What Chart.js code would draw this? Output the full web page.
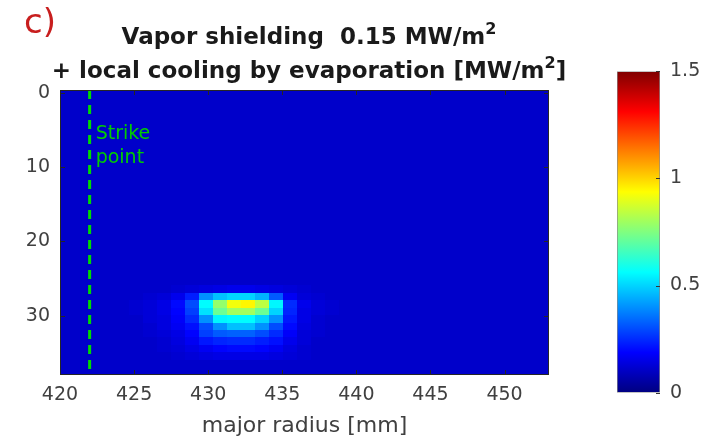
<!DOCTYPE html>
<html>
<head>
<meta charset="utf-8">
<script src="https://cdn.jsdelivr.net/npm/chart.js@4.4.0/dist/chart.umd.min.js"></script>
<style>
  html, body { margin: 0; padding: 0; background: #fff; }
  #wrap { position: relative; width: 706px; height: 443px; }
  #mainChart { position: absolute; left: 0; top: 0; }
  #barChart { position: absolute; left: 600px; top: 50px; }
</style>
</head>
<body>
<div id="wrap">
  <canvas id="mainChart" width="706" height="443"></canvas>
  <canvas id="barChart" width="106" height="364"></canvas>
</div>
<script>
/* --------- データ --------- */
// 横軸（major radius [mm]）の範囲とセル数
const xMin = 420;
const xMax = 453;
const nCols = 35;

// 縦軸の範囲（上が 0）、行 i は [i, i+1]
const yMin = -0.4;
const yMax = 38;
const nRows = 38;

// 背景の熱流束 [MW/m2]
const background = 0.11;

// 局所冷却のホットスポット（列 5〜20、行 26〜35）
const blobFirstCol = 5;
const blobFirstRow = 26;
const blobRows = [
  [0.11, 0.11, 0.11, 0.12, 0.13, 0.14, 0.15, 0.16, 0.16, 0.15, 0.14, 0.13, 0.12, 0.11, 0.11, 0.11],
  [0.11, 0.12, 0.13, 0.16, 0.23, 0.40, 0.47, 0.50, 0.50, 0.45, 0.32, 0.17, 0.13, 0.12, 0.11, 0.11],
  [0.12, 0.13, 0.15, 0.20, 0.30, 0.56, 0.78, 0.92, 0.95, 0.84, 0.55, 0.25, 0.16, 0.13, 0.12, 0.11],
  [0.12, 0.13, 0.15, 0.19, 0.28, 0.52, 0.72, 0.80, 0.80, 0.72, 0.50, 0.24, 0.15, 0.13, 0.12, 0.11],
  [0.11, 0.13, 0.14, 0.18, 0.25, 0.40, 0.55, 0.56, 0.56, 0.50, 0.40, 0.22, 0.15, 0.12, 0.11, 0.11],
  [0.11, 0.12, 0.14, 0.17, 0.21, 0.30, 0.40, 0.47, 0.47, 0.40, 0.30, 0.20, 0.14, 0.12, 0.11, 0.11],
  [0.11, 0.12, 0.13, 0.15, 0.19, 0.28, 0.32, 0.33, 0.33, 0.30, 0.25, 0.18, 0.13, 0.12, 0.11, 0.11],
  [0.11, 0.11, 0.12, 0.14, 0.17, 0.22, 0.24, 0.25, 0.25, 0.23, 0.21, 0.16, 0.13, 0.11, 0.11, 0.11],
  [0.11, 0.11, 0.12, 0.13, 0.15, 0.17, 0.19, 0.20, 0.20, 0.19, 0.17, 0.14, 0.12, 0.11, 0.11, 0.11],
  [0.11, 0.11, 0.11, 0.12, 0.13, 0.14, 0.15, 0.15, 0.15, 0.15, 0.14, 0.13, 0.12, 0.11, 0.11, 0.11],
];

// 目盛り
const xTicks = [420, 425, 430, 435, 440, 445, 450];
const yTicks = [0, 10, 20, 30];
const cbTicks = [0, 0.5, 1, 1.5];
const cbMax = 1.5;

// ストライクポイント
const strikeX = 422;

const FONT = "'DejaVu Sans', sans-serif";

/* --------- ヘルパー --------- */
function clamp01(v) {
  return Math.min(1, Math.max(0, v));
}

// MATLAB の jet カラーマップ
function jet(t) {
  t = clamp01(t);
  const r = clamp01(Math.min(4 * t - 1.5, -4 * t + 4.5));
  const g = clamp01(Math.min(4 * t - 0.5, -4 * t + 3.5));
  const b = clamp01(Math.min(4 * t + 0.5, -4 * t + 2.5));
  return `rgb(${Math.round(r * 255)},${Math.round(g * 255)},${Math.round(b * 255)})`;
}

function cellValue(row, col) {
  const r = row - blobFirstRow;
  const c = col - blobFirstCol;
  if (r >= 0 && r < blobRows.length && c >= 0 && c < blobRows[r].length) return blobRows[r][c];
  return background;
}

function fixedTicks(list) {
  return (scale) => {
    scale.ticks = list.map((v) => ({ value: v }));
  };
}

// 上付き文字を含むテキストを中央揃えで描く
function drawRich(ctx, parts, cx, baseline, size) {
  const widths = parts.map((p) => {
    ctx.font = `bold ${p.sup ? Math.round(size * 0.68) : size}px ${FONT}`;
    return ctx.measureText(p.t).width;
  });
  let x = cx - widths.reduce((a, b) => a + b, 0) / 2;
  parts.forEach((p, i) => {
    ctx.font = `bold ${p.sup ? Math.round(size * 0.68) : size}px ${FONT}`;
    ctx.fillText(p.t, x, p.sup ? baseline - size * 0.45 : baseline);
    x += widths[i];
  });
}

/* --------- ヒートマップ描画プラグイン --------- */
const heatmapPlugin = {
  id: "heatmap",
  beforeDatasetsDraw(chart) {
    const { ctx, chartArea: a, scales } = chart;
    const dx = (xMax - xMin) / nCols;
    ctx.save();
    ctx.beginPath();
    ctx.rect(a.left, a.top, a.width, a.height);
    ctx.clip();
    ctx.fillStyle = jet(background / cbMax);
    ctx.fillRect(a.left, a.top, a.width, a.height);
    for (let r = 0; r < nRows; r++) {
      for (let c = 0; c < nCols; c++) {
        const x0 = Math.floor(scales.x.getPixelForValue(xMin + c * dx));
        const x1 = Math.ceil(scales.x.getPixelForValue(xMin + (c + 1) * dx));
        const y0 = Math.floor(scales.y.getPixelForValue(r));
        const y1 = Math.ceil(scales.y.getPixelForValue(r + 1));
        ctx.fillStyle = jet(cellValue(r, c) / cbMax);
        ctx.fillRect(x0, y0, x1 - x0, y1 - y0);
      }
    }
    ctx.restore();
  },
  afterDraw(chart) {
    const { ctx, chartArea: a, scales } = chart;
    ctx.save();
    // 枠と内向きの目盛り
    ctx.strokeStyle = "#262626";
    ctx.lineWidth = 1;
    ctx.strokeRect(a.left + 0.5, a.top + 0.5, a.width - 1, a.height - 1);
    ctx.beginPath();
    xTicks.forEach((v) => {
      const px = Math.round(scales.x.getPixelForValue(v)) + 0.5;
      ctx.moveTo(px, a.bottom);
      ctx.lineTo(px, a.bottom - 5);
      ctx.moveTo(px, a.top);
      ctx.lineTo(px, a.top + 5);
    });
    yTicks.forEach((v) => {
      const py = Math.round(scales.y.getPixelForValue(v)) + 0.5;
      ctx.moveTo(a.left, py);
      ctx.lineTo(a.left + 5, py);
      ctx.moveTo(a.right, py);
      ctx.lineTo(a.right - 5, py);
    });
    ctx.stroke();

    // ストライクポイントのラベル
    ctx.fillStyle = "rgb(0,205,0)";
    ctx.font = `19px ${FONT}`;
    ctx.textBaseline = "alphabetic";
    const tx = scales.x.getPixelForValue(strikeX) + 6;
    ctx.fillText("Strike", tx, scales.y.getPixelForValue(6.2));
    ctx.fillText("point", tx, scales.y.getPixelForValue(9.4));

    // タイトル
    ctx.fillStyle = "#1a1a1a";
    ctx.textAlign = "left";
    drawRich(ctx, [{ t: "Vapor shielding  0.15 MW/m" }, { t: "2", sup: true }], 309, 44, 23);
    drawRich(ctx, [{ t: "+ local cooling by evaporation [MW/m" }, { t: "2", sup: true }, { t: "]" }], 309, 78, 23);

    // パネル記号
    ctx.fillStyle = "rgb(200,30,30)";
    ctx.font = `34px ${FONT}`;
    ctx.fillText("c)", 24, 33);
    ctx.restore();
  },
};

/* --------- メインのグラフ --------- */
new Chart(document.getElementById("mainChart"), {
  type: "scatter",
  data: {
    datasets: [
      {
        label: "Strike point",
        data: [
          { x: strikeX, y: yMin },
          { x: strikeX, y: yMax },
        ],
        showLine: true,
        borderColor: "rgb(0,220,0)",
        borderWidth: 3,
        borderDash: [9, 6],
        pointRadius: 0,
      },
    ],
  },
  options: {
    responsive: false,
    animation: false,
    layout: { padding: { left: 0, top: 90, right: 157, bottom: 0 } },
    plugins: { legend: { display: false }, tooltip: { enabled: false } },
    scales: {
      x: {
        type: "linear",
        min: xMin,
        max: xMax,
        afterBuildTicks: fixedTicks(xTicks),
        afterFit: (s) => {
          s.height = 68;
        },
        grid: { display: false, drawTicks: false },
        border: { display: false },
        ticks: { color: "#404040", font: { family: FONT, size: 19 }, padding: 9, maxRotation: 0, autoSkip: false },
        title: {
          display: true,
          text: "major radius [mm]",
          color: "#404040",
          font: { family: FONT, size: 22 },
          padding: { top: 0, bottom: 4 },
        },
      },
      y: {
        type: "linear",
        reverse: true,
        min: yMin,
        max: yMax,
        afterBuildTicks: fixedTicks(yTicks),
        afterFit: (s) => {
          s.width = 60;
        },
        grid: { display: false, drawTicks: false },
        border: { display: false },
        ticks: { color: "#404040", font: { family: FONT, size: 19 }, padding: 10 },
      },
    },
  },
  plugins: [heatmapPlugin],
});

/* --------- カラーバー --------- */
// 右端に内向きの小さな目盛りを描く
const cbTickPlugin = {
  id: "cbTicks",
  afterDraw(chart) {
    const { ctx, chartArea: a, scales } = chart;
    ctx.save();
    ctx.strokeStyle = "#333";
    ctx.lineWidth = 1;
    ctx.beginPath();
    cbTicks.forEach((v) => {
      const py = Math.round(scales.y.getPixelForValue(v)) + 0.5;
      ctx.moveTo(a.right, py);
      ctx.lineTo(a.right - 4, py);
    });
    ctx.stroke();
    ctx.restore();
  },
};

new Chart(document.getElementById("barChart"), {
  type: "bar",
  data: {
    labels: [""],
    datasets: [
      {
        data: [[0, cbMax]],
        backgroundColor: (c) => {
          const a = c.chart.chartArea;
          if (!a) return "#000080";
          const grad = c.chart.ctx.createLinearGradient(0, a.bottom, 0, a.top);
          for (let i = 0; i <= 32; i++) grad.addColorStop(i / 32, jet(i / 32));
          return grad;
        },
        borderColor: "#8a8a8a",
        borderWidth: 1,
        borderSkipped: false,
        categoryPercentage: 1,
        barPercentage: 1,
      },
    ],
  },
  options: {
    responsive: false,
    animation: false,
    layout: { padding: { left: 17, top: 2, right: 0, bottom: 3 } },
    plugins: { legend: { display: false }, tooltip: { enabled: false } },
    scales: {
      x: { display: false },
      y: {
        position: "right",
        min: 0,
        max: cbMax,
        afterBuildTicks: fixedTicks(cbTicks),
        afterFit: (s) => {
          s.width = 46;
        },
        grid: { display: false, drawTicks: false },
        border: { display: false },
        ticks: {
          color: "#404040",
          font: { family: FONT, size: 19 },
          padding: 10,
          callback: (v) => String(v),
        },
      },
    },
  },
  plugins: [cbTickPlugin],
});
</script>
</body>
</html>
